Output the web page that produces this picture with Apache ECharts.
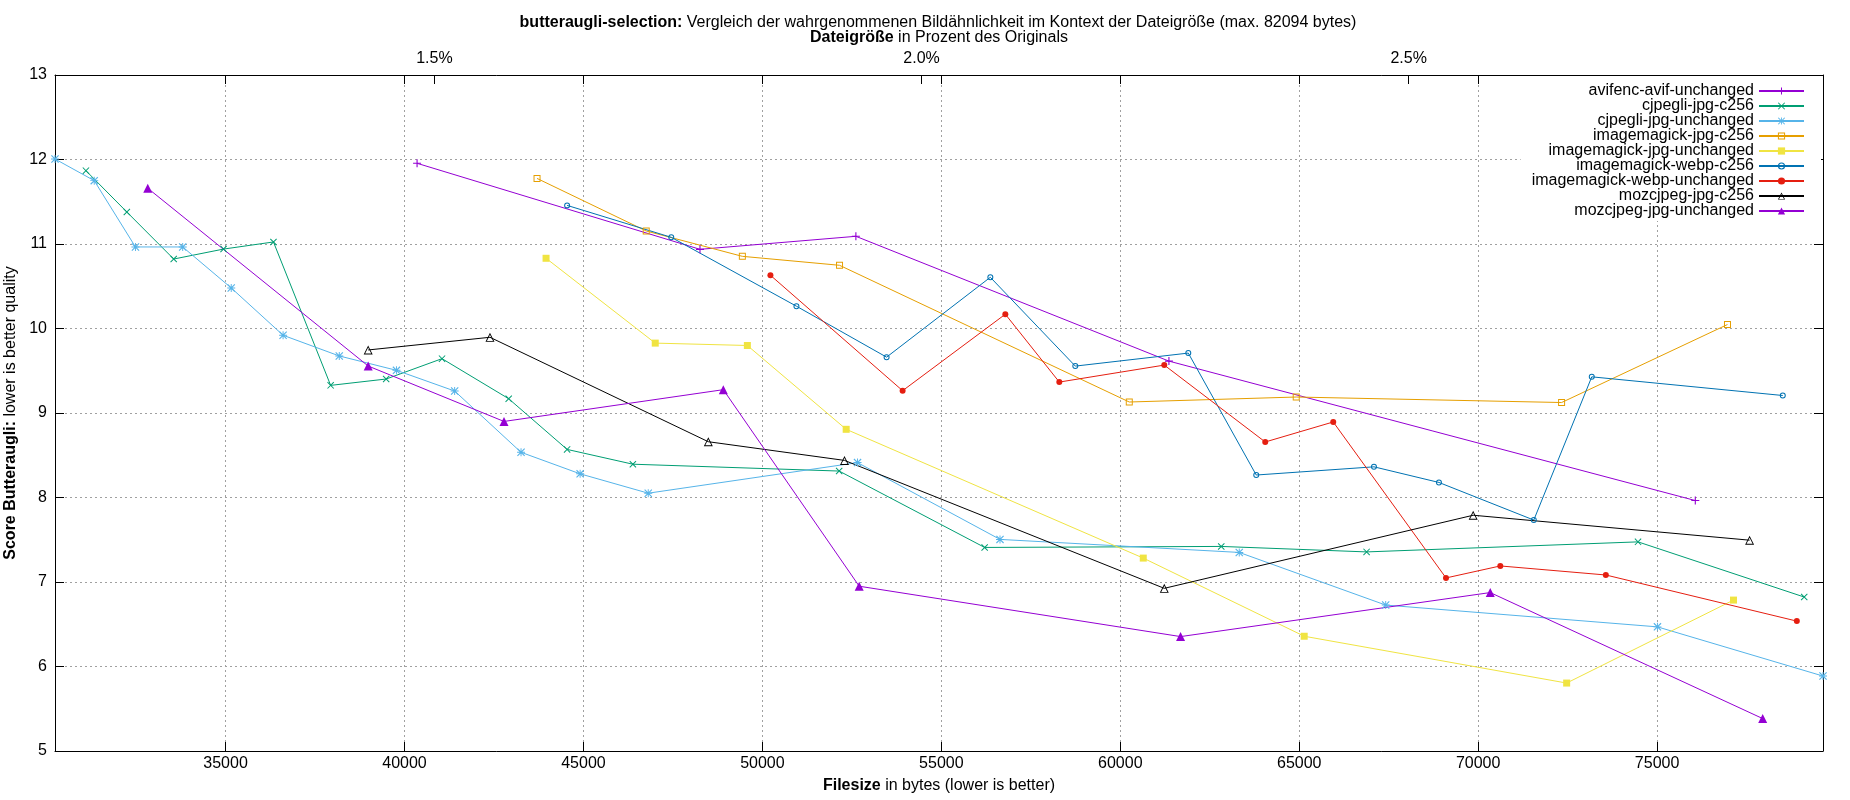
<!DOCTYPE html>
<html>
<head>
<meta charset="utf-8">
<title>butteraugli-selection</title>
<script src="https://cdn.jsdelivr.net/npm/echarts@6/dist/echarts.min.js"></script>
<style>
  html, body { margin: 0; padding: 0; background: #fff; }
  #chart { width: 1850px; height: 800px; }
</style>
</head>
<body>
<div id="chart"></div>
<script>
var avifSize = [40351, 48256, 52612, 61359, 76067];
var avifScore = [11.955, 10.937, 11.091, 9.614, 7.964];

var cjpegliC256Size = [31098, 32241, 33551, 34944, 36338, 37936, 39487, 41048, 42911, 44543, 46381, 52145, 56210, 62821, 66882, 74466, 79110];
var cjpegliC256Score = [11.868, 11.379, 10.822, 10.94, 11.024, 9.327, 9.402, 9.643, 9.169, 8.569, 8.394, 8.313, 7.409, 7.421, 7.356, 7.475, 6.822];

var cjpegliUnchSize = [30234, 31330, 32482, 33802, 35158, 36607, 38177, 39775, 41401, 43256, 44907, 46810, 52658, 56639, 63324, 67416, 75009, 79635];
var cjpegliUnchScore = [12.006, 11.75, 10.965, 10.965, 10.48, 9.92, 9.675, 9.505, 9.26, 8.535, 8.28, 8.051, 8.413, 7.504, 7.35, 6.727, 6.469, 5.887];

var imJpgC256Size = [43703, 46754, 49440, 52155, 60251, 64916, 72331, 76966];
var imJpgC256Score = [11.776, 11.154, 10.854, 10.748, 9.13, 9.189, 9.124, 10.047];

var imJpgUnchSize = [43955, 47006, 49580, 52341, 60642, 65139, 72472, 77134];
var imJpgUnchScore = [10.831, 9.827, 9.799, 8.807, 7.283, 6.358, 5.804, 6.786];

var imWebpC256Size = [44543, 47453, 50951, 53470, 56369, 58743, 61900, 63799, 67088, 68904, 71554, 73174, 78511];
var imWebpC256Score = [11.457, 11.079, 10.264, 9.661, 10.606, 9.555, 9.709, 8.266, 8.363, 8.178, 7.733, 9.428, 9.207];

var imWebpUnchSize = [50224, 53918, 56788, 58296, 61229, 64050, 65950, 69101, 70618, 73567, 78904];
var imWebpUnchScore = [10.63, 9.264, 10.169, 9.366, 9.567, 8.657, 8.894, 7.048, 7.19, 7.083, 6.537];

var mozC256Size = [38985, 42388, 48489, 52294, 61229, 69860, 77584];
var mozC256Score = [9.746, 9.896, 8.66, 8.439, 6.925, 7.79, 7.495];

var mozUnchSize = [32826, 38985, 42780, 48908, 52705, 61685, 70337, 77949];
var mozUnchScore = [11.66, 9.556, 8.9, 9.276, 6.95, 6.354, 6.875, 5.384];

var ORIGINAL_BYTES = 2722300; // Bezug fuer die Prozent-Achse oben

var FONT = '"Liberation Sans", Arial, sans-serif';

// gnuplot-Punkttypen als Pfade
var PT_PLUS = 'path://M4.3,0H5.7V10H4.3ZM0,4.3H10V5.7H0Z';
var PT_CROSS = 'path://M0,1L1,0L10,9L9,10ZM9,0L10,1L1,10L0,9Z';
var PT_STAR = 'path://M4.4,0H5.6V10H4.4ZM0,4.4H10V5.6H0ZM0,1L1,0L10,9L9,10ZM9,0L10,1L1,10L0,9Z';
var PT_BOX = 'path://M0,0H10V10H0ZM1.4,1.4V8.6H8.6V1.4Z';
var PT_CIRCLE = 'path://M5,0A5,5 0 1,1 5,10A5,5 0 1,1 5,0ZM5,1.7A3.3,3.3 0 1,0 5,8.3A3.3,3.3 0 1,0 5,1.7Z';
var PT_TRI = 'path://M5,0L10,10H0ZM5,2.24L1.62,9H8.38Z';

function zip(xs, ys) {
    var out = [];
    for (var i = 0; i < xs.length; i++) out.push([xs[i], ys[i]]);
    return out;
}

function line(name, xs, ys, color, symbol, size) {
    return {
        name: name,
        type: 'line',
        data: zip(xs, ys),
        symbol: symbol,
        symbolSize: size,
        showAllSymbol: true,
        lineStyle: { color: color, width: 1 },
        itemStyle: { color: color, borderWidth: 0 },
        emphasis: { disabled: true },
        xAxisIndex: 0,
        yAxisIndex: 0
    };
}

var allSizes = [].concat(avifSize, cjpegliC256Size, cjpegliUnchSize, imJpgC256Size, imJpgUnchSize,
    imWebpC256Size, imWebpUnchSize, mozC256Size, mozUnchSize);
var xMin = Math.min.apply(null, allSizes);
var xMax = Math.max.apply(null, allSizes);

var tickStyle = { show: true, inside: true, length: 9, lineStyle: { color: '#000', width: 1 } };
var gridLine = { show: true, showMinLine: false, showMaxLine: false, lineStyle: { color: '#a0a0a0', width: 1, type: [2, 3] } };

var chart = echarts.init(document.getElementById('chart'));

chart.setOption({
    animation: false,
    backgroundColor: '#fff',
    textStyle: { fontFamily: FONT },
    title: {
        text: '{b|butteraugli-selection:} Vergleich der wahrgenommenen Bildähnlichkeit im Kontext der Dateigröße (max. 82094 bytes)',
        left: 938,
        textAlign: 'center',
        top: 15,
        padding: 0,
        textStyle: {
            fontFamily: FONT, fontSize: 16, fontWeight: 'normal', color: '#000',
            rich: { b: { fontFamily: FONT, fontSize: 16, fontWeight: 'bold', color: '#000' } }
        }
    },
    grid: { left: 55, right: 27, top: 75, bottom: 49, containLabel: false, outerBoundsMode: 'none' },
    legend: {
        orient: 'vertical',
        align: 'right',
        right: 29,
        top: 76,
        padding: [7, 16, 2, 11],
        backgroundColor: '#fff',
        itemWidth: 45,
        itemHeight: 9,
        itemGap: -1,
        selectedMode: false,
        textStyle: { fontFamily: FONT, fontSize: 16, color: '#000', lineHeight: 15 }
    },
    xAxis: [
        {   // unten: Bytes
            type: 'value',
            position: 'bottom',
            min: xMin,
            max: xMax,
            splitNumber: 10,
            axisLine: { show: true, lineStyle: { color: '#000', width: 1 } },
            axisTick: tickStyle,
            axisLabel: { show: true, showMinLabel: false, showMaxLabel: false, margin: 5,
                fontFamily: FONT, fontSize: 16, color: '#000',
                formatter: function (v) { return String(Math.round(v)); } },
            splitLine: gridLine,
            name: '{b|Filesize} in bytes (lower is better)',
            nameLocation: 'middle',
            nameGap: 27,
            nameTextStyle: { fontFamily: FONT, fontSize: 16, color: '#000',
                rich: { b: { fontFamily: FONT, fontSize: 16, fontWeight: 'bold', color: '#000' } } }
        },
        {   // oben: gespiegelte Ticks der Bytes-Achse
            type: 'value',
            position: 'top',
            min: xMin,
            max: xMax,
            splitNumber: 10,
            axisLine: { show: false },
            axisTick: tickStyle,
            axisLabel: { show: false },
            splitLine: { show: false }
        },
        {   // oben: Prozent des Originals
            type: 'value',
            position: 'top',
            min: xMin / ORIGINAL_BYTES * 100,
            max: xMax / ORIGINAL_BYTES * 100,
            splitNumber: 4,
            axisLine: { show: true, lineStyle: { color: '#000', width: 1 } },
            axisTick: tickStyle,
            axisLabel: { show: true, showMinLabel: false, showMaxLabel: false, margin: 8,
                fontFamily: FONT, fontSize: 16, color: '#000',
                formatter: function (v) { return v.toFixed(1) + '%'; } },
            splitLine: { show: false },
            name: '{b|Dateigröße} in Prozent des Originals',
            nameLocation: 'middle',
            nameGap: 29,
            nameTextStyle: { fontFamily: FONT, fontSize: 16, color: '#000',
                rich: { b: { fontFamily: FONT, fontSize: 16, fontWeight: 'bold', color: '#000' } } }
        }
    ],
    yAxis: [
        {
            type: 'value',
            position: 'left',
            min: 5,
            max: 13,
            interval: 1,
            axisLine: { show: true, lineStyle: { color: '#000', width: 1 } },
            axisTick: tickStyle,
            axisLabel: { margin: 8, fontFamily: FONT, fontSize: 16, color: '#000' },
            splitLine: gridLine,
            name: '{b|Score Butteraugli:} lower is better quality',
            nameLocation: 'middle',
            nameRotate: 90,
            nameGap: 33,
            nameTextStyle: { fontFamily: FONT, fontSize: 16, color: '#000',
                rich: { b: { fontFamily: FONT, fontSize: 16, fontWeight: 'bold', color: '#000' } } }
        },
        {   // rechts: gespiegelte Ticks
            type: 'value',
            position: 'right',
            min: 5,
            max: 13,
            interval: 1,
            axisLine: { show: true, lineStyle: { color: '#000', width: 1 } },
            axisTick: tickStyle,
            axisLabel: { show: false },
            splitLine: { show: false }
        }
    ],
    series: [
        line('avifenc-avif-unchanged', avifSize, avifScore, '#9400d3', PT_PLUS, 8),
        line('cjpegli-jpg-c256', cjpegliC256Size, cjpegliC256Score, '#009e73', PT_CROSS, 7),
        line('cjpegli-jpg-unchanged', cjpegliUnchSize, cjpegliUnchScore, '#56b4e9', PT_STAR, 8),
        line('imagemagick-jpg-c256', imJpgC256Size, imJpgC256Score, '#e69f00', PT_BOX, 7),
        line('imagemagick-jpg-unchanged', imJpgUnchSize, imJpgUnchScore, '#f0e442', 'rect', 7),
        line('imagemagick-webp-c256', imWebpC256Size, imWebpC256Score, '#0072b2', PT_CIRCLE, 6),
        line('imagemagick-webp-unchanged', imWebpUnchSize, imWebpUnchScore, '#e51e10', 'circle', 6),
        line('mozcjpeg-jpg-c256', mozC256Size, mozC256Score, '#000000', PT_TRI, 9),
        line('mozcjpeg-jpg-unchanged', mozUnchSize, mozUnchScore, '#9400d3', 'triangle', 9)
    ]
});
</script>
</body>
</html>
